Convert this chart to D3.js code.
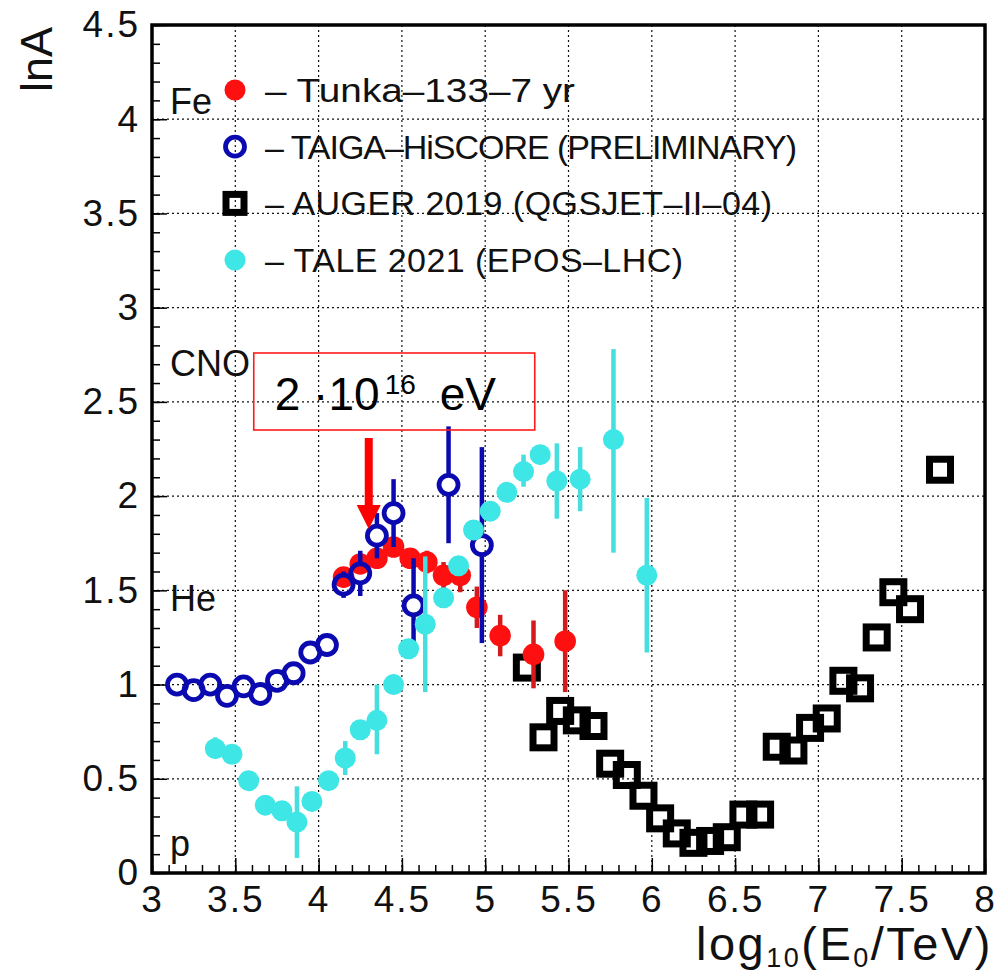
<!DOCTYPE html>
<html>
<head>
<meta charset="utf-8">
<script src="https://cdn.jsdelivr.net/npm/d3@7"></script>
<style>
  body { margin: 0; background: #fff; }
  svg { display: block; }
</style>
</head>
<body>
<svg id="chart" width="1000" height="980"></svg>
<script>
// ---- Data: mean logarithmic mass lnA vs log10(E0/TeV) ----

// Tunka-133, 7 years
const tunkaX   = [4.15, 4.25, 4.35, 4.45, 4.55, 4.65, 4.75, 4.85, 4.95, 5.09, 5.29, 5.48];
const tunkaY   = [1.57, 1.64, 1.67, 1.73, 1.67, 1.65, 1.58, 1.58, 1.41, 1.26, 1.16, 1.23];
const tunkaErr = [0.03, 0.04, 0.05, 0.05, 0.05, 0.06, 0.07, 0.09, 0.11, 0.11, 0.18, 0.27];

// TAIGA-HiSCORE (preliminary)
const taigaX   = [3.15, 3.25, 3.35, 3.45, 3.55, 3.65, 3.75, 3.85, 3.95, 4.05, 4.15, 4.25, 4.35, 4.45, 4.57, 4.78, 4.98];
const taigaY   = [1.00, 0.97, 1.00, 0.94, 0.99, 0.95, 1.02, 1.06, 1.17, 1.21, 1.53, 1.59, 1.79, 1.91, 1.42, 2.06, 1.74];
const taigaErr = [0.02, 0.02, 0.02, 0.02, 0.02, 0.02, 0.02, 0.02, 0.02, 0.02, 0.07, 0.12, 0.12, 0.18, 0.25, 0.31, 0.52];

// Pierre Auger 2019 (QGSJET-II-04)
const augerX = [5.25, 5.35, 5.45, 5.55, 5.65, 5.75, 5.85, 5.95, 6.05, 6.15, 6.25, 6.35, 6.45, 6.55, 6.65, 6.75, 6.85, 6.95, 7.05, 7.15, 7.25, 7.35, 7.45, 7.55, 7.73];
const augerY = [1.09, 0.72, 0.86, 0.81, 0.78, 0.58, 0.52, 0.41, 0.29, 0.21, 0.16, 0.17, 0.19, 0.31, 0.31, 0.67, 0.65, 0.77, 0.82, 1.02, 0.98, 1.25, 1.49, 1.40, 2.14];

// TALE 2021 (EPOS-LHC)
const taleX     = [3.38, 3.48, 3.58, 3.68, 3.78, 3.87, 3.96, 4.06, 4.16, 4.25, 4.35, 4.45, 4.54, 4.64, 4.75, 4.84, 4.93, 5.03, 5.13, 5.23, 5.33, 5.43, 5.57, 5.77, 5.97];
const taleY     = [0.66, 0.63, 0.49, 0.36, 0.33, 0.27, 0.38, 0.49, 0.61, 0.76, 0.81, 1.00, 1.19, 1.32, 1.46, 1.63, 1.82, 1.92, 2.02, 2.13, 2.22, 2.08, 2.09, 2.30, 1.58];
const taleErrLo = [0.03, 0.02, 0.02, 0.02, 0.02, 0.19, 0.02, 0.02, 0.09, 0.03, 0.18, 0.03, 0.03, 0.36, 0.03, 0.04, 0.03, 0.03, 0.03, 0.08, 0.03, 0.20, 0.17, 0.60, 0.41];
const taleErrHi = [0.06, 0.02, 0.02, 0.02, 0.02, 0.19, 0.02, 0.02, 0.09, 0.03, 0.19, 0.03, 0.03, 0.36, 0.03, 0.04, 0.03, 0.03, 0.03, 0.09, 0.03, 0.20, 0.17, 0.48, 0.41];

// Reference nuclei and their lnA
const nucleiNames = ["Fe", "CNO", "He", "p"];
const nucleiLnA   = [4.03, 2.64, 1.39, 0.0];

// Axis ticks
const xTicks = [3, 3.5, 4, 4.5, 5, 5.5, 6, 6.5, 7, 7.5, 8];
const xTickLabels = ["3", "3.5", "4", "4.5", "5", "5.5", "6", "6.5", "7", "7.5", "8"];
const yTicks = [0, 0.5, 1, 1.5, 2, 2.5, 3, 3.5, 4, 4.5];
const yTickLabels = ["0", "0.5", "1", "1.5", "2", "2.5", "3", "3.5", "4", "4.5"];

// Legend entries
const legendNames = ["– Tunka–133–7 yr", "– TAIGA–HiSCORE (PRELIMINARY)", "– AUGER 2019 (QGSJET–II–04)", "– TALE 2021 (EPOS–LHC)"];

// Energy marked by the arrow (eV)
const markedEnergyEV = 2e16;

// ---- Layout ----
const svg = d3.select("#chart");
const plot = { left: 152, right: 985, top: 25, bottom: 873 };
const x = d3.scaleLinear().domain([3, 8]).range([plot.left, plot.right]);
const y = d3.scaleLinear().domain([0, 4.5]).range([plot.bottom, plot.top]);

const RED = "#ff1010", RED_BAR = "#d41a1a";
const BLUE = "#0a0ab0";
const CYAN = "#3ee6e6", CYAN_BAR = "#46dede";
const TEXT_FONT = "'Liberation Sans', Arial, sans-serif";

// Dotted grid at the major ticks
const grid = svg.append("g").attr("stroke", "#111").attr("stroke-width", 1.2).attr("stroke-dasharray", "2,3");
grid.selectAll("line.vx").data(xTicks.filter(v => v > 3 && v < 8)).join("line")
  .attr("x1", d => x(d)).attr("x2", d => x(d)).attr("y1", plot.top).attr("y2", plot.bottom);
grid.selectAll("line.hy").data(yTicks.filter(v => v > 0 && v < 4.5)).join("line")
  .attr("y1", d => y(d)).attr("y2", d => y(d)).attr("x1", plot.left).attr("x2", plot.right);

// Axes with inward ticks
const minorX = d3.range(30, 81).map(v => v / 10);
const minorY = d3.range(0, 46).map(v => v / 10);

svg.append("g").attr("transform", `translate(0,${plot.bottom})`)
  .call(d3.axisBottom(x).tickValues(minorX).tickSize(-8).tickSizeOuter(0).tickFormat(""))
  .call(g => g.select(".domain").remove());
const xAxis = svg.append("g").attr("transform", `translate(0,${plot.bottom})`)
  .call(d3.axisBottom(x).tickValues(xTicks).tickSize(-15).tickSizeOuter(0).tickPadding(13)
    .tickFormat((d, i) => xTickLabels[i]))
  .call(g => g.select(".domain").remove());
xAxis.selectAll("text").attr("font-family", TEXT_FONT).attr("font-size", 37)
  .attr("letter-spacing", 2).attr("fill", "#111");

svg.append("g").attr("transform", `translate(${plot.left},0)`)
  .call(d3.axisLeft(y).tickValues(minorY).tickSize(-8).tickSizeOuter(0).tickFormat(""))
  .call(g => g.select(".domain").remove());
const yAxis = svg.append("g").attr("transform", `translate(${plot.left},0)`)
  .call(d3.axisLeft(y).tickValues(yTicks).tickSize(-15).tickSizeOuter(0).tickPadding(12)
    .tickFormat((d, i) => yTickLabels[i]))
  .call(g => g.select(".domain").remove());
yAxis.selectAll("text").attr("font-family", TEXT_FONT).attr("font-size", 37)
  .attr("letter-spacing", 2).attr("fill", "#111");
svg.selectAll(".tick line").attr("stroke", "#000").attr("stroke-width", 1.5);

// Frame
svg.append("rect")
  .attr("x", plot.left).attr("y", plot.top)
  .attr("width", plot.right - plot.left).attr("height", plot.bottom - plot.top)
  .attr("fill", "none").attr("stroke", "#000").attr("stroke-width", 3.5);

// Axis titles
const xt = svg.append("text").attr("x", 993).attr("y", 960).attr("text-anchor", "end")
  .attr("font-family", TEXT_FONT).attr("font-size", 47).attr("letter-spacing", 2.5).attr("fill", "#111");
xt.append("tspan").text("log");
xt.append("tspan").attr("font-size", 27).attr("dy", 7).text("10");
xt.append("tspan").attr("dy", -7).text("(E");
xt.append("tspan").attr("font-size", 27).attr("dy", 7).text("0");
xt.append("tspan").attr("dy", -7).text("/TeV)");

svg.append("text").attr("transform", "translate(52,27) rotate(-90)").attr("text-anchor", "end")
  .attr("font-family", TEXT_FONT).attr("font-size", 45).attr("fill", "#111").text("lnA");

// Nuclei labels
svg.append("g").selectAll("text").data(nucleiNames).join("text")
  .attr("x", plot.left + 18)
  .attr("y", (d, i) => Math.min(y(nucleiLnA[i]), plot.bottom - 17))
  .attr("font-family", TEXT_FONT).attr("font-size", 36).attr("fill", "#111")
  .text(d => d);

// Error bar helper (bars stop at the edge of open markers)
function errorBars(g, xs, ys, lo, hi, color, width, gap) {
  const segs = [];
  xs.forEach((xv, i) => {
    const cx = x(xv), cy = y(ys[i]);
    const top = y(ys[i] + hi[i]), bot = y(ys[i] - lo[i]);
    if (cy - gap > top) segs.push([cx, top, cx, cy - gap]);
    if (cy + gap < bot) segs.push([cx, cy + gap, cx, bot]);
  });
  g.selectAll("line").data(segs).join("line")
    .attr("x1", d => d[0]).attr("y1", d => d[1]).attr("x2", d => d[2]).attr("y2", d => d[3])
    .attr("stroke", color).attr("stroke-width", width);
}

// Auger: open squares
const gAuger = svg.append("g");
gAuger.selectAll("rect").data(augerX).join("rect")
  .attr("x", (d) => x(d) - 10.5).attr("y", (d, i) => y(augerY[i]) - 10.5)
  .attr("width", 21).attr("height", 21)
  .attr("fill", "none").attr("stroke", "#000").attr("stroke-width", 7);

// Tunka-133: filled red circles
const gTunka = svg.append("g");
errorBars(gTunka.append("g"), tunkaX, tunkaY, tunkaErr, tunkaErr, RED_BAR, 4.5, 0);
gTunka.append("g").selectAll("circle").data(tunkaX).join("circle")
  .attr("cx", d => x(d)).attr("cy", (d, i) => y(tunkaY[i])).attr("r", 10.8)
  .attr("fill", RED);

// TAIGA-HiSCORE: open blue circles
const gTaiga = svg.append("g");
errorBars(gTaiga.append("g"), taigaX, taigaY, taigaErr, taigaErr, BLUE, 4.5, 11);
gTaiga.append("g").selectAll("circle").data(taigaX).join("circle")
  .attr("cx", d => x(d)).attr("cy", (d, i) => y(taigaY[i])).attr("r", 9.5)
  .attr("fill", "none").attr("stroke", BLUE).attr("stroke-width", 4.8);

// TALE: filled cyan circles
const gTale = svg.append("g");
errorBars(gTale.append("g"), taleX, taleY, taleErrLo, taleErrHi, CYAN_BAR, 4.5, 0);
gTale.append("g").selectAll("circle").data(taleX).join("circle")
  .attr("cx", d => x(d)).attr("cy", (d, i) => y(taleY[i])).attr("r", 10.5)
  .attr("fill", CYAN);

// Legend
const legendMarkerX = 235, legendTextX = 265, legendTop = 90, legendStep = 56.7;
const legendWidths = [310, 532, 507, 418];
const lg = svg.append("g");
lg.selectAll("text").data(legendNames).join("text")
  .attr("x", legendTextX).attr("y", (d, i) => legendTop + i * legendStep + 12)
  .attr("font-family", TEXT_FONT).attr("font-size", 34).attr("fill", "#111")
  .attr("textLength", (d, i) => legendWidths[i])
  .attr("lengthAdjust", (d, i) => i === 0 ? "spacingAndGlyphs" : "spacing")
  .text(d => d);
lg.append("circle").attr("cx", legendMarkerX).attr("cy", legendTop).attr("r", 10.5).attr("fill", RED);
lg.append("circle").attr("cx", legendMarkerX).attr("cy", legendTop + legendStep).attr("r", 9.5)
  .attr("fill", "none").attr("stroke", BLUE).attr("stroke-width", 4.8);
lg.append("rect").attr("x", legendMarkerX - 9).attr("y", legendTop + 2 * legendStep - 9)
  .attr("width", 18).attr("height", 18).attr("fill", "none").attr("stroke", "#000").attr("stroke-width", 7);
lg.append("circle").attr("cx", legendMarkerX).attr("cy", legendTop + 3 * legendStep).attr("r", 10.5).attr("fill", CYAN);

// Arrow marking 2·10^16 eV, converted to log10(E/TeV)
const ax = x(Math.log10(markedEnergyEV / 1e12));
const ann = svg.append("g");
ann.append("rect").attr("x", ax - 115).attr("y", 353).attr("width", 281).attr("height", 77)
  .attr("fill", "none").attr("stroke", "#ff1a1a").attr("stroke-width", 1.6);
ann.append("text").attr("x", ax - 94).attr("y", 410)
  .attr("font-family", TEXT_FONT).attr("font-size", 46).attr("fill", "#000").text("2 ·10");
ann.append("text").attr("x", ax + 16).attr("y", 394)
  .attr("font-family", TEXT_FONT).attr("font-size", 28).attr("fill", "#000").text("16");
ann.append("text").attr("x", ax + 71).attr("y", 410)
  .attr("font-family", TEXT_FONT).attr("font-size", 46).attr("fill", "#000").text("eV");
ann.append("rect").attr("x", ax - 4).attr("y", 438).attr("width", 8).attr("height", 70).attr("fill", "#ff0000");
ann.append("path").attr("d", `M${ax - 12},505 L${ax + 12},505 L${ax},529 Z`).attr("fill", "#ff0000");
</script>
</body>
</html>
